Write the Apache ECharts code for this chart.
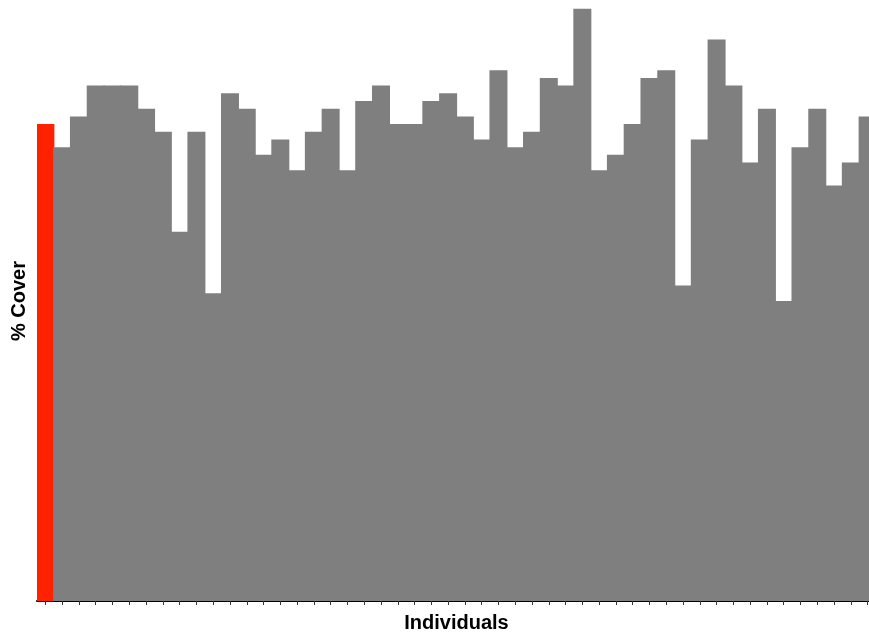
<!DOCTYPE html>
<html>
<head>
<meta charset="utf-8">
<script src="https://cdn.jsdelivr.net/npm/echarts@6/dist/echarts.min.js"></script>
<style>
  html, body { margin: 0; padding: 0; background: #fff; }
  #chart { width: 869px; height: 633px; }
</style>
</head>
<body>
<div id="chart"></div>
<script>
// Percent cover for each individual; the first one is highlighted
const individuals = Array.from({ length: 50 }, (_, i) => 'Ind ' + (i + 1));
const cover = [
  62, 59, 63, 67, 67, 67, 64, 61, 48, 61,
  40, 66, 64, 58, 60, 56, 61, 64, 56, 65,
  67, 62, 62, 65, 66, 63, 60, 69, 59, 61,
  68, 67, 77, 56, 58, 62, 68, 69, 41, 60,
  73, 67, 57, 64, 39, 59, 64, 54, 57, 63
];
const highlightIndex = 0;
const barGrey = '#7f7f7f';
const barRed = '#ff2200';

const chart = echarts.init(document.getElementById('chart'), null, { renderer: 'canvas' });

chart.setOption({
  animation: false,
  backgroundColor: '#ffffff',
  grid: { left: 37, top: 1, height: 600, width: 839, outerBoundsMode: 'none', containLabel: false },
  xAxis: {
    type: 'category',
    data: individuals,
    name: 'Individuals',
    nameLocation: 'middle',
    nameGap: 12,
    nameTextStyle: { fontFamily: 'Liberation Sans, Arial, sans-serif', fontWeight: 'bold', fontSize: 20, color: '#000' },
    axisLine: { lineStyle: { color: '#000', width: 2 } },
    axisTick: { show: true, interval: 0, alignWithLabel: true, length: 4, lineStyle: { color: '#333', width: 1 } },
    axisLabel: { show: false, interval: 0 },
    splitLine: { show: false }
  },
  yAxis: {
    type: 'value',
    min: 0,
    max: 78,
    name: '% Cover',
    nameLocation: 'middle',
    nameGap: 8,
    nameTextStyle: { fontFamily: 'Liberation Sans, Arial, sans-serif', fontWeight: 'bold', fontSize: 20, color: '#000' },
    axisLine: { show: false },
    axisTick: { show: false },
    axisLabel: { show: false },
    splitLine: { show: false }
  },
  series: [{
    type: 'bar',
    // slightly wider than a category so neighbouring bars overlap without seams
    barWidth: 18,
    barGap: '-100%',
    data: cover.map((v, i) => ({
      value: v,
      itemStyle: { color: i === highlightIndex ? barRed : barGrey }
    }))
  }]
});
</script>
</body>
</html>
